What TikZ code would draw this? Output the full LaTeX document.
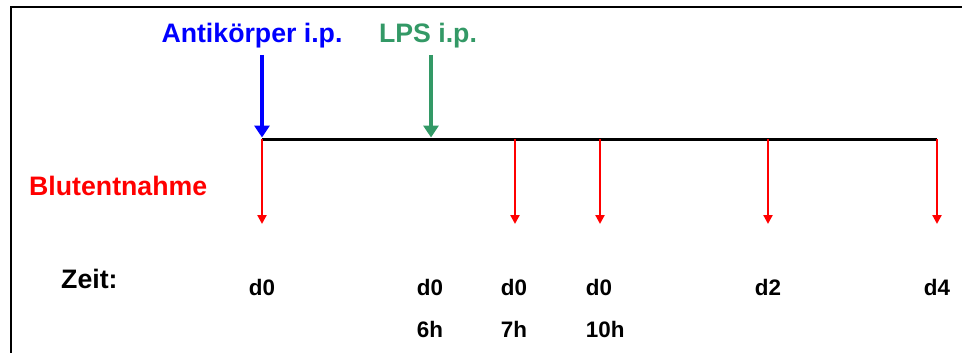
\documentclass[tikz,border=0pt]{standalone}
\usepackage{fontspec}
\setmainfont{Liberation Sans}
\usetikzlibrary{arrows.meta}
\definecolor{injblue}{RGB}{0,0,255}
\definecolor{injgreen}{RGB}{51,153,102}
\definecolor{bloodred}{RGB}{255,0,0}
\tikzset{
  bigtxt/.style={inner sep=0pt, font=\fontsize{26.7}{32}\selectfont\bfseries},
  smalltxt/.style={inner sep=0pt, font=\fontsize{22.4}{27}\selectfont\bfseries},
  injarrow/.style={line width=4.5pt, -{Triangle[length=12pt,width=15pt]}},
  bloodarrow/.style={bloodred, line width=2.8pt, -{Triangle[length=9pt,width=9pt]}},
  axisline/.style={line width=3pt, black},
  framestyle/.style={line width=2.2pt, black}
}
\begin{document}
\begin{tikzpicture}[x=1pt,y=-1pt]
\useasboundingbox (0,0) rectangle (962,353);
% outer frame (top and left edges)
\draw[framestyle] (11,353) -- (11,7) -- (963,7);

% time axis
\coordinate (a0) at (262,139);
\coordinate (a6) at (431,139);
\coordinate (a7) at (515,139);
\coordinate (a10) at (600,139);
\coordinate (a2) at (768,139);
\coordinate (a4) at (937,139);
\draw[axisline] (a0) -- (a4);

% injections
\node[bigtxt, text=injblue, anchor=base] (ak) at (252,43) {Antikörper i.p.};
\node[bigtxt, text=injgreen, anchor=base] (lps) at (428,43) {LPS i.p.};
\coordinate (akstart) at (262,55);
\coordinate (akend) at (262,137.5);
\coordinate (lpsstart) at (431,55);
\coordinate (lpsend) at (431,137.5);
\draw[injarrow, injblue] (akstart) -- (akend);
\draw[injarrow, injgreen] (lpsstart) -- (lpsend);

% blood sampling
\node[bigtxt, text=bloodred, anchor=base west] (bl) at (29,195) {Blutentnahme};
\foreach \p in {a0,a7,a10,a2,a4}{
  \coordinate (\p e) at ([yshift=-85pt]\p);
  \draw[bloodarrow] (\p) -- (\p e);
}

% time labels
\node[bigtxt, anchor=base west] (zeit) at (61,288) {Zeit:};
\node[smalltxt, anchor=base] (t0) at (262,295) {d0};
\node[smalltxt, anchor=base] (t6) at (430,295) {d0};
\node[smalltxt, anchor=base] (t7) at (514,295) {d0};
\node[smalltxt, anchor=base] (t10) at (599,295) {d0};
\node[smalltxt, anchor=base] (t2) at (768,295) {d2};
\node[smalltxt, anchor=base] (t4) at (937,295) {d4};
\node[smalltxt, anchor=base west] (h6) at ([yshift=-42pt]t6.base west) {6h};
\node[smalltxt, anchor=base west] (h7) at ([yshift=-42pt]t7.base west) {7h};
\node[smalltxt, anchor=base west] (h10) at ([yshift=-42pt]t10.base west) {10h};
\end{tikzpicture}
\end{document}
